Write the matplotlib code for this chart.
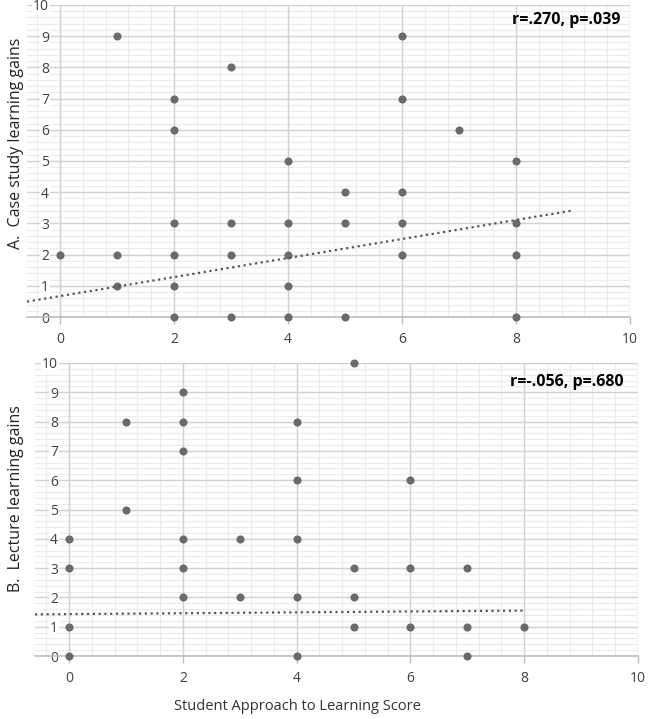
import matplotlib
matplotlib.use("Agg")
import matplotlib.pyplot as plt
import numpy as np
from matplotlib.ticker import MultipleLocator

# ---- data ----
a_x = [0, 1, 1, 1, 2, 2, 2, 2, 2, 2, 3, 3, 3, 3, 4, 4, 4, 4, 4, 5, 5, 5, 6, 6, 6, 6, 6, 7, 8, 8, 8, 8]
a_y = [2, 9, 2, 1, 7, 6, 3, 2, 1, 0, 8, 3, 2, 0, 5, 3, 2, 1, 0, 4, 3, 0, 9, 7, 4, 3, 2, 6, 5, 3, 2, 0]
a_trend = (0.67, 0.305)          # intercept, slope
a_trend_x = [-0.58, 9.0]
a_label = "A.  Case study learning gains"
a_stat = "r=.270, p=.039"

b_x = [0, 0, 0, 0, 1, 1, 2, 2, 2, 2, 2, 2, 3, 3, 4, 4, 4, 4, 4, 5, 5, 5, 5, 6, 6, 6, 7, 7, 7, 8]
b_y = [4, 3, 1, 0, 8, 5, 9, 8, 7, 4, 3, 2, 4, 2, 8, 6, 4, 2, 0, 10, 3, 2, 1, 6, 3, 1, 3, 1, 0, 1]
b_trend = (1.43, 0.015)
b_trend_x = [-0.6, 8.0]
b_label = "B.  Lecture learning gains"
b_stat = "r=-.056, p=.680"

x_label = "Student Approach to Learning Score"
x_ticks = [0, 2, 4, 6, 8, 10]
y_ticks = list(range(0, 11))

plt.rcParams['font.family'] = ['Open Sans', 'DejaVu Sans']

fig = plt.figure(figsize=(6.5, 7.19), dpi=100)
W, H = 650, 719

def make_ax(left_px, right_px, top_px, bottom_px, xmin):
    rect = [left_px / W, 1 - bottom_px / H, (right_px - left_px) / W, (bottom_px - top_px) / H]
    # background axes carrying only the faint minor grid
    bg = fig.add_axes(rect, zorder=0)
    bg.set_xlim(xmin, 10)
    bg.set_ylim(0, 10)
    bg.xaxis.set_minor_locator(MultipleLocator(0.4))
    bg.yaxis.set_minor_locator(MultipleLocator(0.2))
    bg.set_xticks([])
    bg.set_yticks([])
    bg.grid(which='minor', color='#ececec', linewidth=0.8)
    bg.tick_params(which='both', length=0, labelleft=False, labelbottom=False)
    for s in bg.spines.values():
        s.set_visible(False)

    ax = fig.add_axes(rect, zorder=1)
    ax.patch.set_alpha(0)
    ax.set_xlim(xmin, 10)
    ax.set_ylim(0, 10)
    ax.set_xticks(x_ticks)
    ax.set_yticks(y_ticks)
    ax.grid(which='major', color='#d2d2d2', linewidth=1.0)
    ax.set_axisbelow(True)
    for s in ['top', 'right']:
        ax.spines[s].set_visible(False)
    ax.spines['left'].set_position(('data', 0))
    ax.spines['left'].set_color('#d2d2d2')
    ax.spines['bottom'].set_color('#bdbdbd')
    ax.spines['bottom'].set_linewidth(1.2)
    ax.tick_params(axis='y', which='both', length=0, pad=8, labelsize=10, labelcolor='#404040')
    ax.tick_params(axis='x', which='major', length=5, width=1, color='#bdbdbd', pad=6,
                   labelsize=10, labelcolor='#404040')
    for lbl in ax.get_yticklabels():
        lbl.set_bbox(dict(facecolor='white', edgecolor='none', pad=0.5))
    return ax

ax1 = make_ax(27, 630, 5, 317, -0.58)
ax2 = make_ax(35, 638, 363, 656, -0.6)

for ax, xs, ys, tr, trx in [(ax1, a_x, a_y, a_trend, a_trend_x), (ax2, b_x, b_y, b_trend, b_trend_x)]:
    ax.scatter(xs, ys, s=34, color='#6a6a6a', zorder=3, clip_on=False, linewidths=0)
    tx = np.array(trx)
    ax.plot(tx, tr[0] + tr[1] * tx, linestyle=(0, (1, 1.6)), color='#555555', linewidth=1.6, zorder=4)

fig.text(16 / W, 1 - 143 / H, a_label, rotation=90, ha='center', va='center', fontsize=11.5, color='#222222')
fig.text(16 / W, 1 - 499 / H, b_label, rotation=90, ha='center', va='center', fontsize=11.5, color='#222222')
fig.text(297 / W, 1 - 707 / H, x_label, ha='center', va='center', fontsize=10.5, color='#333333')
fig.text(620 / W, 1 - 20 / H, a_stat, ha='right', va='center', fontsize=11.5, fontweight='bold', color='black')
fig.text(624 / W, 1 - 382 / H, b_stat, ha='right', va='center', fontsize=11.5, fontweight='bold', color='black')

fig.savefig('out.png', dpi=100)
